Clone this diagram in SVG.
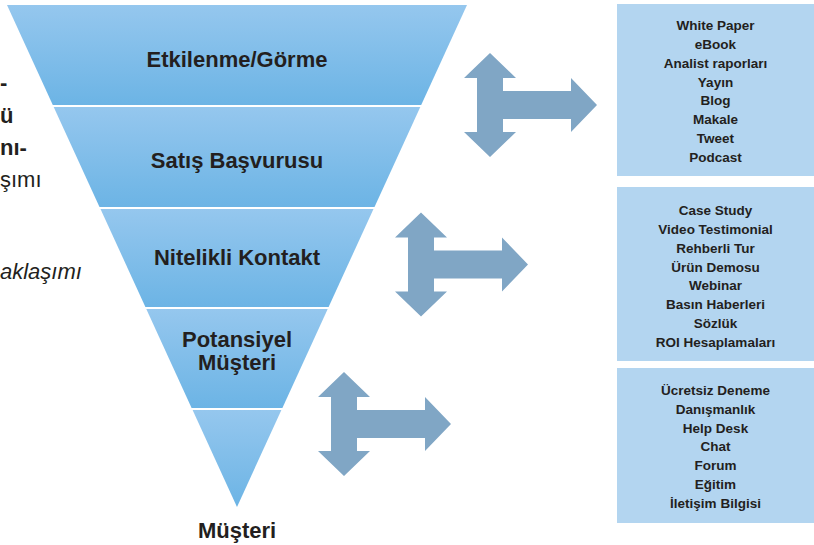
<svg xmlns="http://www.w3.org/2000/svg" width="814" height="545" viewBox="0 0 814 545">
<defs>
<linearGradient id="band" x1="0" y1="0" x2="0" y2="1">
<stop offset="0" stop-color="#95c7ee"/>
<stop offset="1" stop-color="#6cb4e5"/>
</linearGradient>
<path id="arrow" d="M0,-52 L26,-27 L13,-27 L13,-14 L81,-14 L81,-27 L107,0 L81,27 L81,14 L13,14 L13,27 L26,27 L0,52 L-26,27 L-13,27 L-13,-27 L-26,-27 Z"/>
</defs>
<style>
.band{fill:url(#band);}
.lbl{font-family:"Liberation Sans",Arial,sans-serif;font-weight:bold;font-size:22px;fill:#231f20;text-anchor:middle;}
.box{fill:#b3d5f0;}
.bt{font-family:"Liberation Sans",Arial,sans-serif;font-weight:bold;font-size:13.5px;fill:#231f20;text-anchor:middle;}
.arr{fill:#80a6c5;}
.side{font-family:"Liberation Sans",Arial,sans-serif;font-size:22px;fill:#231f20;}
</style>
<rect width="814" height="545" fill="#ffffff"/>

<g id="side-text">
<text class="side" x="0" y="90" font-weight="bold">-</text>
<text class="side" x="0" y="123" font-weight="bold">ü</text>
<text class="side" x="0" y="155" font-weight="bold">nı-</text>
<text class="side" x="0" y="187">şımı</text>
<text class="side" x="0" y="279" font-size="16" font-style="italic">aklaşımı</text>
</g>

<g id="funnel-1">
<polygon class="band" points="7,5 467,5 421.2,105 52.8,105"/>
<text class="lbl" x="237" y="67">Etkilenme/Görme</text>
</g>
<g id="funnel-2">
<polygon class="band" points="53.7,107 420.3,107 374.5,207 99.5,207"/>
<text class="lbl" x="237" y="168">Satış Başvurusu</text>
</g>
<g id="funnel-3">
<polygon class="band" points="100.5,209 373.5,209 328.6,307 145.4,307"/>
<text class="lbl" x="237" y="265">Nitelikli Kontakt</text>
</g>
<g id="funnel-4">
<polygon class="band" points="146.3,309 327.7,309 282.4,408 191.6,408"/>
<text class="lbl" x="237" y="347">Potansiyel</text>
<text class="lbl" x="237" y="370">Müşteri</text>
</g>
<g id="funnel-5">
<polygon class="band" points="192.6,410 281.4,410 237,507"/>
</g>
<g id="musteri">
<text class="lbl" x="237" y="538">Müşteri</text>
</g>

<g id="connectors">
<use href="#arrow" class="arr" transform="translate(490,105)"/>
<use href="#arrow" class="arr" transform="translate(421,264.5)"/>
<use href="#arrow" class="arr" transform="translate(344,424)"/>
</g>

<g id="box-1">
<rect class="box" x="617" y="4" width="197" height="172"/>
<text class="bt" x="715.5" y="30">White Paper</text>
<text class="bt" x="715.5" y="48.85">eBook</text>
<text class="bt" x="715.5" y="67.7">Analist raporları</text>
<text class="bt" x="715.5" y="86.55">Yayın</text>
<text class="bt" x="715.5" y="105.4">Blog</text>
<text class="bt" x="715.5" y="124.25">Makale</text>
<text class="bt" x="715.5" y="143.1">Tweet</text>
<text class="bt" x="715.5" y="161.95">Podcast</text>
</g>
<g id="box-2">
<rect class="box" x="617" y="187" width="197" height="174"/>
<text class="bt" x="715.5" y="215">Case Study</text>
<text class="bt" x="715.5" y="233.85">Video Testimonial</text>
<text class="bt" x="715.5" y="252.7">Rehberli Tur</text>
<text class="bt" x="715.5" y="271.55">Ürün Demosu</text>
<text class="bt" x="715.5" y="290.4">Webinar</text>
<text class="bt" x="715.5" y="309.25">Basın Haberleri</text>
<text class="bt" x="715.5" y="328.1">Sözlük</text>
<text class="bt" x="715.5" y="346.95">ROI Hesaplamaları</text>
</g>
<g id="box-3">
<rect class="box" x="617" y="368" width="197" height="155"/>
<text class="bt" x="715.5" y="395">Ücretsiz Deneme</text>
<text class="bt" x="715.5" y="413.75">Danışmanlık</text>
<text class="bt" x="715.5" y="432.5">Help Desk</text>
<text class="bt" x="715.5" y="451.25">Chat</text>
<text class="bt" x="715.5" y="470">Forum</text>
<text class="bt" x="715.5" y="488.75">Eğitim</text>
<text class="bt" x="715.5" y="507.5">İletişim Bilgisi</text>
</g>
</svg>
